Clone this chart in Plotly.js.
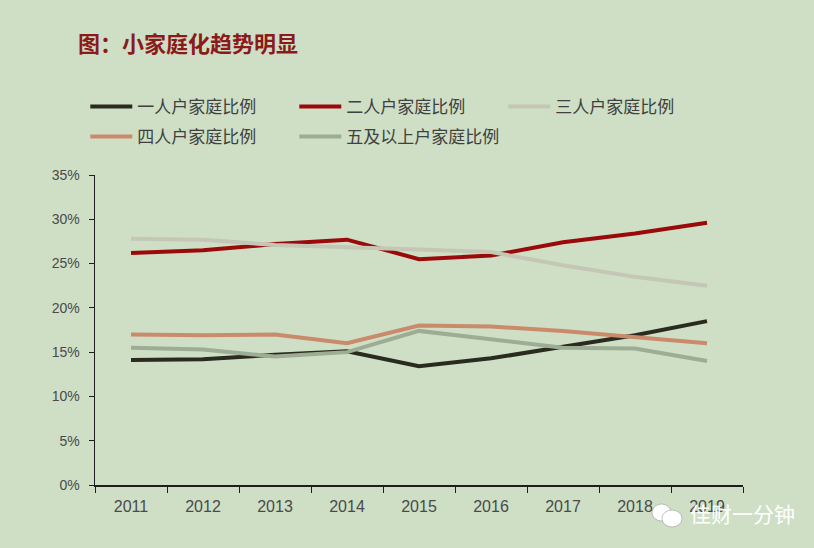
<!DOCTYPE html>
<html>
<head>
<meta charset="utf-8">
<script src="https://cdn.plot.ly/plotly-3.0.1.min.js"></script>
<style>html,body{margin:0;padding:0;background:#cedfc5;}#chart{width:814px;height:548px;}</style>
</head>
<body>
<div id="chart"></div>
<script>
const years = ['2011','2012','2013','2014','2015','2016','2017','2018','2019'];
const onePerson   = [14.1, 14.2, 14.7, 15.1, 13.4, 14.3, 15.6, 16.9, 18.5];
const twoPerson   = [26.2, 26.5, 27.2, 27.7, 25.5, 25.9, 27.4, 28.4, 29.6];
const threePerson = [27.8, 27.7, 27.1, 26.9, 26.6, 26.3, 24.8, 23.5, 22.5];
const fourPerson  = [17.0, 16.9, 17.0, 16.0, 18.0, 17.9, 17.4, 16.7, 16.0];
const fivePlus    = [15.5, 15.3, 14.5, 15.0, 17.4, 16.4, 15.5, 15.4, 14.0];
const names = ['一人户家庭比例','二人户家庭比例','三人户家庭比例','四人户家庭比例','五及以上户家庭比例'];
const colors = ['#2a2a1e','#9b0a0a','#c4c7b6','#c98b6c','#9dad95'];
const series = [onePerson, twoPerson, threePerson, fourPerson, fivePlus];
const legendOf = ['legend','legend','legend','legend2','legend2'];

const traces = series.map((s,i)=>({
  type:'scatter', mode:'lines', x:years, y:s, name:names[i],
  line:{color:colors[i], width:4}, legend:legendOf[i]
}));

const legendCommon = {
  orientation:'h', xanchor:'left', yanchor:'middle', bgcolor:'rgba(0,0,0,0)',
  font:{family:'Noto Sans CJK SC', size:17, color:'#404040'},
  entrywidth:152, entrywidthmode:'pixels', itemwidth:42, traceorder:'normal'
};

const layout = {
  width:814, height:548,
  paper_bgcolor:'#cedfc5', plot_bgcolor:'#cedfc5',
  margin:{l:95, r:71, t:175, b:63},
  title:{text:'<b>图：小家庭化趋势明显</b>', x:78/814, xanchor:'left', y:1-44/548, yanchor:'middle',
    font:{family:'Noto Sans CJK SC', size:22, color:'#8b1a1a'}},
  showlegend:true,
  legend:Object.assign({}, legendCommon, {x:-0.015, y:1+68/310}),
  legend2:Object.assign({}, legendCommon, {x:-0.015, y:1+38/310}),
  xaxis:{type:'category', range:[-0.5,8.5], tickson:'boundaries', ticks:'outside', ticklen:6,
    tickcolor:'#1e1e1e', showline:true, linecolor:'#1e1e1e', linewidth:1.5, showgrid:false, zeroline:false,
    ticklabelstandoff:6,
    tickfont:{family:'Liberation Sans, Arial', size:16, color:'#4a4a4a'}, fixedrange:true},
  yaxis:{range:[0,35], dtick:5, ticksuffix:'%', ticks:'outside', ticklen:5, tickcolor:'#1e1e1e',
    showline:true, linecolor:'#1e1e1e', linewidth:1.5, showgrid:false, zeroline:false,
    ticklabelstandoff:6,
    tickfont:{family:'Liberation Sans, Arial', size:14, color:'#4a4a4a'}, fixedrange:true},
  annotations:[
    {xref:'paper', yref:'paper', x:(688-95)/648, y:-(513-485)/310, xanchor:'left', yanchor:'middle',
     text:'佳财一分钟', showarrow:false,
     font:{family:'Noto Sans CJK SC', size:21, color:'#ffffff'}}
  ],
  shapes:[
    {type:'circle', xref:'paper', yref:'paper', x0:(652-95)/648, x1:(671-95)/648, y0:-(521-485)/310, y1:-(504-485)/310,
     fillcolor:'#ffffff', line:{color:'#888888', width:0.5}},
    {type:'circle', xref:'paper', yref:'paper', x0:(662-95)/648, x1:(682-95)/648, y0:-(527-485)/310, y1:-(510-485)/310,
     fillcolor:'#ffffff', line:{color:'#888888', width:0.5}}
  ]
};
Plotly.newPlot('chart', traces, layout, {displayModeBar:false, staticPlot:true});
</script>
</body>
</html>
